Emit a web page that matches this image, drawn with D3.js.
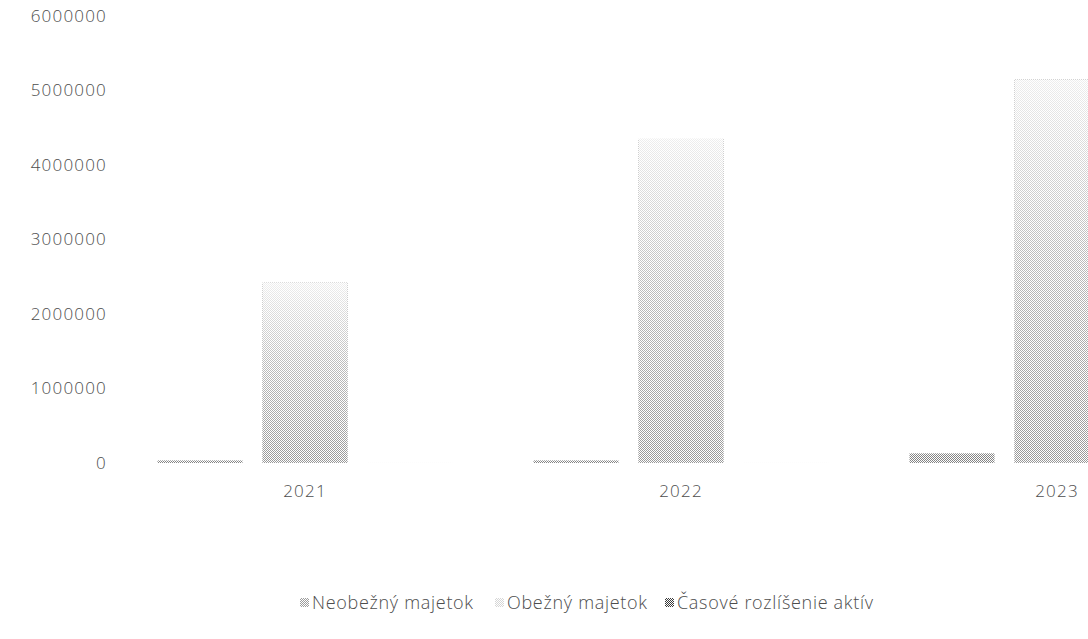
<!DOCTYPE html>
<html>
<head>
<meta charset="utf-8">
<script src="https://cdn.jsdelivr.net/npm/d3@7"></script>
<style>
  html, body { margin: 0; padding: 0; background: #fff; overflow: hidden; }
  text { font-family: "Open Sans", "Noto Sans", sans-serif; font-weight: 300; fill: #4d4d4d; }
</style>
</head>
<body>
<svg id="chart" width="1088" height="639"></svg>
<script>
const years = ["2021", "2022", "2023"];
const seriesNames = ["Neobežný majetok", "Obežný majetok", "Časové rozlíšenie aktív"];
const neobezny = [35000, 35000, 130000];
const obezny = [2420000, 4350000, 5150000];
const casove = [1000, 1000, 1500];
const yTicks = [0, 1000000, 2000000, 3000000, 4000000, 5000000, 6000000];

const svg = d3.select("#chart");
const defs = svg.append("defs");

function checkerPattern(id, color) {
  const p = defs.append("pattern").attr("id", id).attr("patternUnits", "userSpaceOnUse")
    .attr("width", 2).attr("height", 2);
  p.append("rect").attr("width", 2).attr("height", 2).attr("fill", "#fff");
  p.append("rect").attr("x", 0).attr("y", 0).attr("width", 1).attr("height", 1).attr("fill", color);
  p.append("rect").attr("x", 1).attr("y", 1).attr("width", 1).attr("height", 1).attr("fill", color);
}
checkerPattern("dotsObezny", "#5a5a5a");
checkerPattern("dotsNeo", "#858585");
checkerPattern("dotsCas", "#3a3a3a");

const grad = defs.append("linearGradient").attr("id", "fadeGrad")
  .attr("x1", 0).attr("y1", 0).attr("x2", 0).attr("y2", 1);
grad.append("stop").attr("offset", 0).attr("stop-color", "#fff").attr("stop-opacity", 0.9);
grad.append("stop").attr("offset", 0.45).attr("stop-color", "#fff").attr("stop-opacity", 0.6);
grad.append("stop").attr("offset", 1).attr("stop-color", "#fff").attr("stop-opacity", 0.38);

const x = d3.scaleBand().domain(years).range([117, 1245]).paddingInner(0).paddingOuter(0);
const xs = d3.scaleBand().domain(seriesNames).range([30.5, x.bandwidth() - 30.5])
  .paddingInner(0.19).paddingOuter(0.095);
const y = d3.scaleLinear().domain([0, 6000000]).range([463, 16]);

// y axis labels
const yAxis = d3.axisLeft(y).tickValues(yTicks).tickSize(0).tickPadding(0).tickFormat(d3.format("d"));
const gy = svg.append("g").attr("transform", "translate(107,0)").call(yAxis);
gy.select(".domain").remove();
gy.selectAll("text").style("font-size", "17px").attr("letter-spacing", "1.2px")
  .style("font-family", '"Open Sans", sans-serif').attr("fill", "#4d4d4d");

// x axis labels
const xAxis = d3.axisBottom(x).tickSize(0).tickPadding(22);
const gx = svg.append("g").attr("transform", "translate(0,463)").call(xAxis);
gx.select(".domain").remove();
gx.selectAll("text").style("font-size", "17px").attr("letter-spacing", "1.2px")
  .style("font-family", '"Open Sans", sans-serif').attr("fill", "#4d4d4d");

const seriesData = [
  { name: seriesNames[0], values: neobezny, fill: "url(#dotsNeo)" },
  { name: seriesNames[1], values: obezny, fill: "url(#dotsObezny)" },
  { name: seriesNames[2], values: casove, fill: "url(#dotsCas)" }
];

seriesData.forEach((s, si) => {
  const g = svg.append("g");
  g.selectAll("rect.bar").data(s.values).enter().append("rect")
    .attr("class", "bar")
    .attr("x", (d, i) => x(years[i]) + xs(s.name))
    .attr("width", xs.bandwidth())
    .attr("y", d => y(d))
    .attr("height", d => y(0) - y(d))
    .attr("fill", s.fill)
    .attr("opacity", si === 2 ? 0.15 : 1);
  if (si === 1) {
    g.selectAll("rect.fade").data(s.values).enter().append("rect")
      .attr("class", "fade")
      .attr("x", (d, i) => x(years[i]) + xs(s.name))
      .attr("width", xs.bandwidth())
      .attr("y", d => y(d))
      .attr("height", d => y(0) - y(d))
      .attr("fill", "url(#fadeGrad)");
  }
});

// legend
const legendItems = [
  { name: seriesNames[0], x: 300, fill: "url(#dotsNeo)", op: 0.8 },
  { name: seriesNames[1], x: 495, fill: "url(#dotsObezny)", op: 0.25 },
  { name: seriesNames[2], x: 665, fill: "url(#dotsCas)", op: 1 }
];
const lg = svg.append("g").attr("transform", "translate(0,603)");
const li = lg.selectAll("g").data(legendItems).enter().append("g")
  .attr("transform", d => `translate(${d.x},0)`);
li.append("rect").attr("x", 0).attr("y", -5).attr("width", 9).attr("height", 9)
  .attr("fill", d => d.fill).attr("opacity", d => d.op);
li.append("text").attr("x", 12).attr("y", 0).attr("dy", "0.35em")
  .style("font-size", "18px").attr("letter-spacing", "0.7px").text(d => d.name);
</script>
</body>
</html>
